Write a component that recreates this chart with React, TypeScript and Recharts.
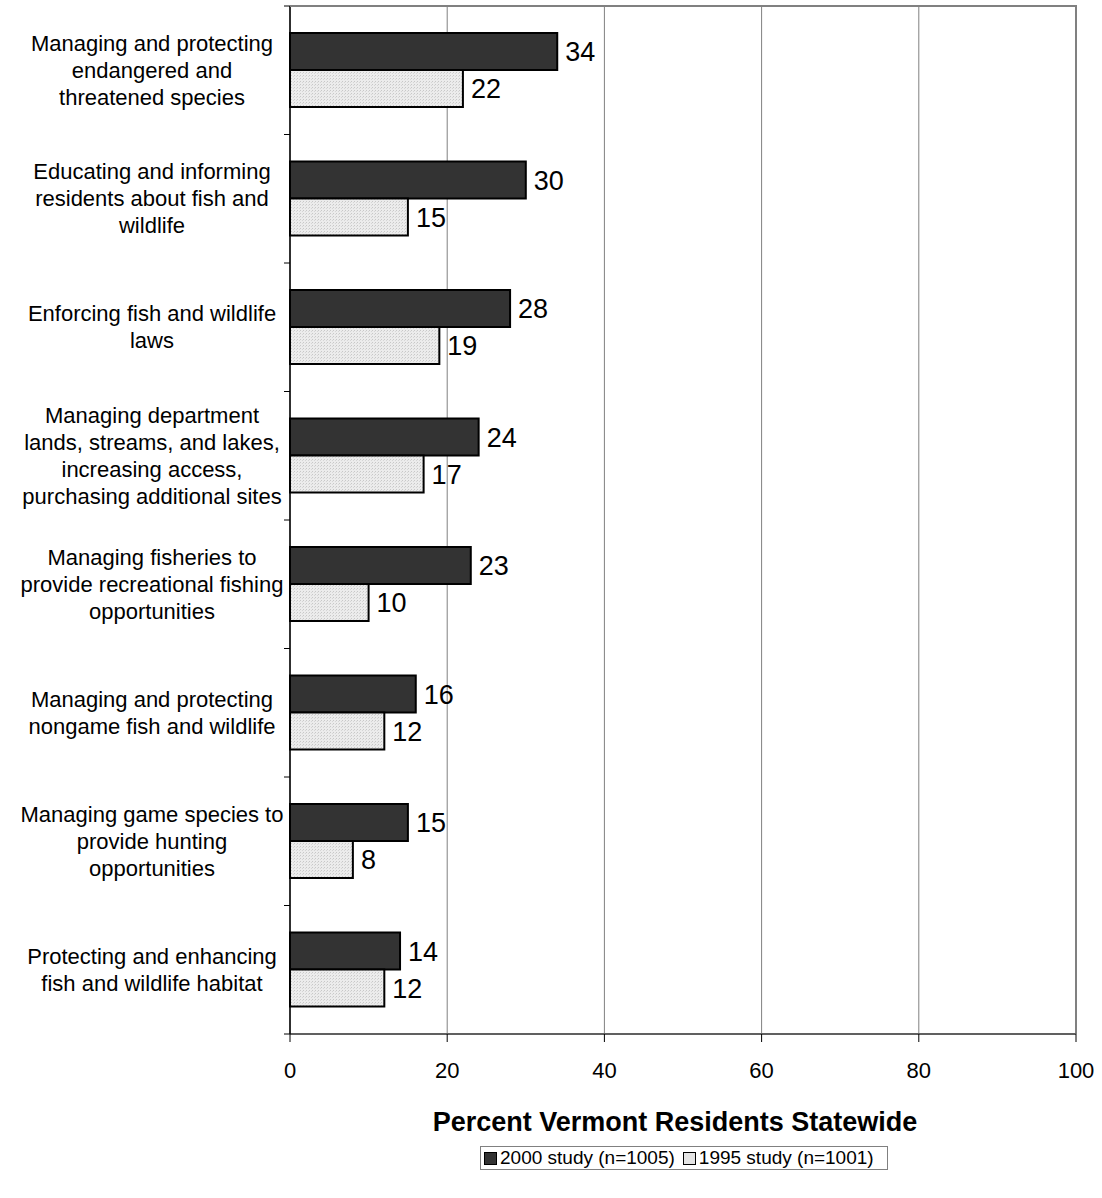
import React from 'react';
import { BarChart, Bar, XAxis, YAxis, CartesianGrid, LabelList } from 'recharts';

const categories = [
    'Managing and protecting\nendangered and\nthreatened species',
    'Educating and informing\nresidents about fish and\nwildlife',
    'Enforcing fish and wildlife\nlaws',
    'Managing department\nlands, streams, and lakes,\nincreasing access,\npurchasing additional sites',
    'Managing fisheries to\nprovide recreational fishing\nopportunities',
    'Managing and protecting\nnongame fish and wildlife',
    'Managing game species to\nprovide hunting\nopportunities',
    'Protecting and enhancing\nfish and wildlife habitat',
];
const study2000 = [34, 30, 28, 24, 23, 16, 15, 14];
const study1995 = [22, 15, 19, 17, 10, 12, 8, 12];
const xTicks = [0, 20, 40, 60, 80, 100];
const seriesNames = ['2000 study (n=1005)', '1995 study (n=1001)'];

const data = categories.map((name, i) => ({ name, y2000: study2000[i], y1995: study1995[i] }));

const FONT = '"Liberation Sans", Arial, sans-serif';

// category labels, plus the small tick marks that sit on the band boundaries
const CategoryTick = (props: any) => {
    const { y, payload, index } = props;
    const lines: string[] = String(payload.value).split('\n');
    const lh = 27;
    const start = y - ((lines.length - 1) * lh) / 2;
    const half = payload.offset || 64.25;
    return (
        <g>
            {index === 0 && <line x1={290} x2={1077} y1={y - half} y2={y - half} stroke="#808080" strokeWidth={2} />}
            <line x1={284} x2={290} y1={y - half} y2={y - half} stroke="#000" />
            {index === categories.length - 1 && <line x1={284} x2={290} y1={y + half} y2={y + half} stroke="#000" />}
            <text x={152} textAnchor="middle" fontSize={22} fill="#000" fontFamily={FONT}>
                {lines.map((l, i) => (
                    <tspan key={i} x={152} y={start + i * lh} dy="0.35em">
                        {l}
                    </tspan>
                ))}
            </text>
        </g>
    );
};

export default function App() {
    return (
        <div style={{ position: 'absolute', left: 0, top: 0, width: 1102, height: 1198, fontFamily: FONT, background: '#fff' }}>
            <BarChart
                layout="vertical"
                width={1102}
                height={1198}
                data={data}
                margin={{ top: 5, right: 25, left: 0, bottom: 0 }}
                barGap={0}
            >
                <defs>
                    <pattern id="dots" width="3" height="3" patternUnits="userSpaceOnUse">
                        <rect width="3" height="3" fill="#ececec" />
                        <rect width="1" height="1" fill="#c8c8c8" />
                        <rect x="2" y="1" width="1" height="1" fill="#d6d6d6" />
                    </pattern>
                </defs>
                <CartesianGrid horizontal={false} stroke="#808080" strokeWidth={1} />
                <XAxis
                    xAxisId="frame"
                    orientation="top"
                    type="number"
                    domain={[0, 100]}
                    ticks={xTicks}
                    height={1}
                    tick={false}
                    tickLine={false}
                    axisLine={{ stroke: '#808080', strokeWidth: 2 }}
                />
                <YAxis
                    yAxisId="frame"
                    orientation="right"
                    type="category"
                    dataKey="name"
                    width={1}
                    tick={false}
                    tickLine={false}
                    axisLine={{ stroke: '#808080', strokeWidth: 2 }}
                />
                <XAxis
                    type="number"
                    domain={[0, 100]}
                    ticks={xTicks}
                    height={164}
                    tickSize={8}
                    tickMargin={20}
                    axisLine={{ stroke: '#606060', strokeWidth: 2 }}
                    tickLine={{ stroke: '#000' }}
                    tick={{ fontSize: 22, fill: '#000', fontFamily: FONT }}
                    label={{
                        value: 'Percent Vermont Residents Statewide',
                        position: 'insideBottom',
                        offset: 67,
                        dx: -8,
                        style: { fontSize: 27, fontWeight: 'bold', fill: '#000', fontFamily: FONT },
                    }}
                />
                <YAxis
                    type="category"
                    dataKey="name"
                    width={290}
                    interval={0}
                    tickLine={false}
                    axisLine={{ stroke: '#000', strokeWidth: 1.5 }}
                    tick={<CategoryTick />}
                />
                <Bar dataKey="y2000" barSize={37} fill="#333333" stroke="#000" strokeWidth={2} isAnimationActive={false}>
                    <LabelList dataKey="y2000" position="right" offset={8} fontSize={27} fill="#000" fontFamily={FONT} />
                </Bar>
                <Bar dataKey="y1995" barSize={37} fill="url(#dots)" stroke="#000" strokeWidth={2} isAnimationActive={false}>
                    <LabelList dataKey="y1995" position="right" offset={8} fontSize={27} fill="#000" fontFamily={FONT} />
                </Bar>
            </BarChart>
            <div
                style={{
                    position: 'absolute',
                    left: 480,
                    top: 1146,
                    width: 406,
                    height: 22,
                    border: '1px solid #808080',
                    display: 'flex',
                    alignItems: 'center',
                    fontSize: 19,
                    color: '#000',
                    whiteSpace: 'nowrap',
                }}
            >
                {seriesNames.map((n, i) => (
                    <div key={n} style={{ display: 'flex', alignItems: 'center', marginLeft: i === 0 ? 3 : 8 }}>
                        <span
                            style={{
                                display: 'inline-block',
                                width: 11,
                                height: 11,
                                border: '1px solid #000',
                                background: i === 0 ? '#333333' : '#e4e4e4',
                                marginRight: 3,
                            }}
                        />
                        {n}
                    </div>
                ))}
            </div>
        </div>
    );
}
